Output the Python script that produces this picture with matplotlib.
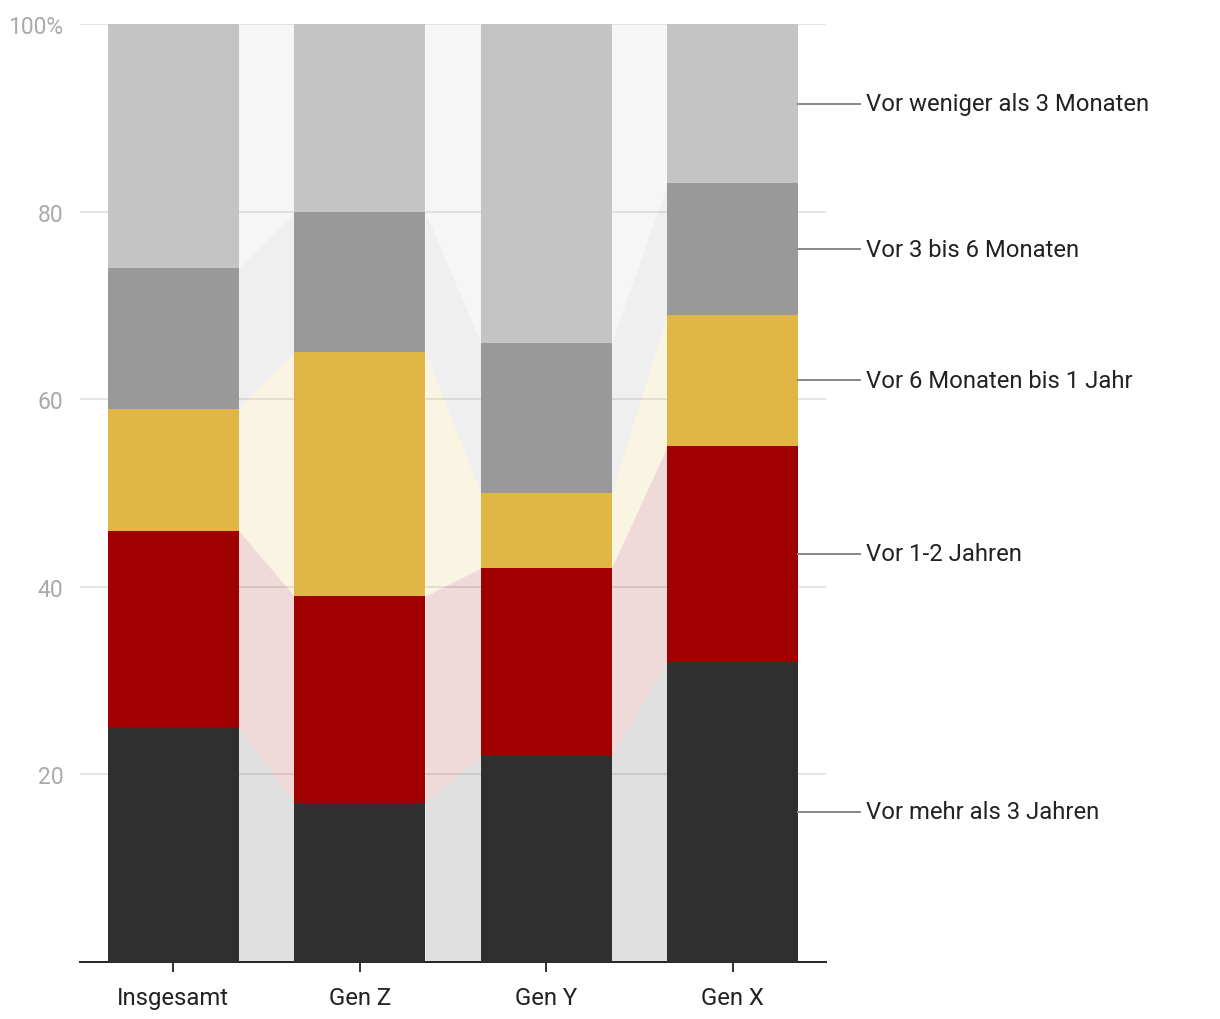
import numpy as np
import matplotlib.pyplot as plt

plt.rcParams['font.family'] = ['Roboto', 'DejaVu Sans']

groups = ['Insgesamt', 'Gen Z', 'Gen Y', 'Gen X']
series_names = ['Vor mehr als 3 Jahren', 'Vor 1-2 Jahren', 'Vor 6 Monaten bis 1 Jahr',
                'Vor 3 bis 6 Monaten', 'Vor weniger als 3 Monaten']
values = [
    [25, 17, 22, 32],   # mehr als 3 Jahre
    [21, 22, 20, 23],   # 1-2 Jahre
    [13, 26, 8, 14],    # 6 Monate bis 1 Jahr
    [15, 15, 16, 14],   # 3 bis 6 Monate
    [26, 20, 34, 17],   # weniger als 3 Monate
]
colors = ['#2f2f2f', '#a00000', '#e0b645', '#999999', '#c4c4c4']
yticks = [20, 40, 60, 80, 100]
ytick_labels = ['20', '40', '60', '80', '100%']

fig = plt.figure(figsize=(12.2, 10.2), dpi=100)
ax = fig.add_axes([80 / 1220, 57 / 1020, 746 / 1220, 938 / 1020])

x = np.arange(len(groups))
width = 0.70
bottom = np.zeros(len(groups))
for vals, col, name in zip(values, colors, series_names):
    vals = np.array(vals, dtype=float)
    top = bottom + vals
    # connecting bands between bars
    for i in range(len(groups) - 1):
        xs = [x[i] + width / 2, x[i + 1] - width / 2]
        ax.fill_between(xs, [bottom[i], bottom[i + 1]], [top[i], top[i + 1]],
                        color=col, alpha=0.15, linewidth=0, zorder=2)
    ax.bar(x, vals, width, bottom=bottom, color=col, zorder=3, linewidth=0)
    # label on the right, at the middle of the last segment
    ymid = bottom[-1] + vals[-1] / 2
    ax.plot([x[-1] + width / 2, x[-1] + width / 2 + 0.33], [ymid, ymid],
            color='#888888', lw=1.4, clip_on=False, zorder=4)
    ax.text(x[-1] + width / 2 + 0.365, ymid, name, va='center', ha='left',
            fontsize=17.2, color='#222222')
    bottom = top

ax.set_xlim(-0.5, 3.5)
ax.set_ylim(0, 100)
ax.set_yticks(yticks)
ax.set_yticklabels(ytick_labels)
ax.set_xticks(x)
ax.set_xticklabels(groups)
ax.yaxis.grid(True, color='#e3e3e3', lw=1.3, zorder=1)
ax.set_axisbelow(True)
ax.tick_params(axis='y', length=0, pad=12, labelsize=16.5, labelcolor='#aaaaaa')
ax.tick_params(axis='x', length=7, width=1.3, color='#222222', pad=10,
               labelsize=17.2, labelcolor='#222222')
for s in ['top', 'right', 'left']:
    ax.spines[s].set_visible(False)
ax.spines['bottom'].set_color('#222222')
ax.spines['bottom'].set_linewidth(1.4)

plt.savefig('out.png', dpi=100)
